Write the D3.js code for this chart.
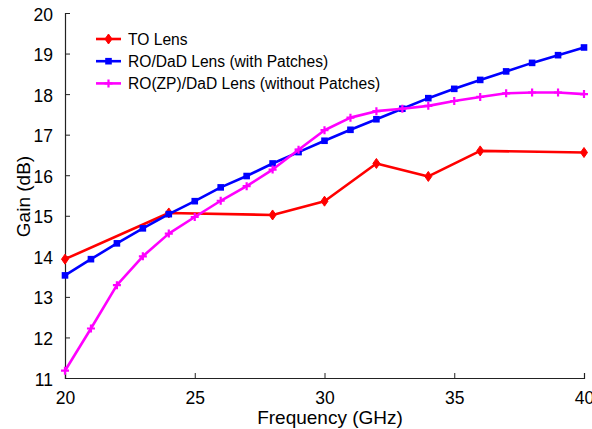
<!DOCTYPE html>
<html>
<head>
<meta charset="utf-8">
<script src="https://cdn.jsdelivr.net/npm/d3@7"></script>
<style>
  body { margin: 0; background: #fff; }
  text { font-family: "Liberation Sans", Arial, sans-serif; fill: #000; }
</style>
</head>
<body>
<div id="chart"></div>
<script>
// chart values
var toFreq = [20, 24, 28, 30, 32, 34, 36, 40];
var toGain = [13.93, 15.07, 15.02, 15.36, 16.29, 15.97, 16.60, 16.56];

var patchFreq = d3.range(20, 41);
var patchGain = [13.53, 13.93, 14.32, 14.69, 15.04, 15.36, 15.70, 15.98, 16.29, 16.57,
                 16.85, 17.12, 17.38, 17.64, 17.90, 18.13, 18.35, 18.56, 18.77, 18.96, 19.15];

var zpFreq = d3.range(20, 41);
var zpGain = [11.18, 12.22, 13.29, 14.00, 14.56, 14.97, 15.37, 15.73, 16.14, 16.63,
              17.11, 17.42, 17.58, 17.64, 17.71, 17.83, 17.93, 18.02, 18.04, 18.04, 18.00];

var seriesNames = ["TO Lens", "RO/DaD Lens (with Patches)", "RO(ZP)/DaD Lens (without Patches)"];
var xTicks = [20, 25, 30, 35, 40];
var yTicks = [11, 12, 13, 14, 15, 16, 17, 18, 19, 20];

var svgWidth = 592;
var svgHeight = 429;

var margin = { top: 13, right: 8, bottom: 51, left: 65 };
var width = svgWidth - margin.left - margin.right;
var height = svgHeight - margin.top - margin.bottom;

var svg = d3.select("#chart")
  .append("svg")
  .attr("width", svgWidth)
  .attr("height", svgHeight);

var chartGroup = svg.append("g")
  .attr("transform", `translate(${margin.left}, ${margin.top})`);

var xScale = d3.scaleLinear().domain([20, 40]).range([0, width]);
var yScale = d3.scaleLinear().domain([11, 20]).range([height, 0]);

// axes, ticks pointing inward
var bottomAxis = d3.axisBottom(xScale).tickValues(xTicks).tickSize(-5).tickPadding(14);
var leftAxis = d3.axisLeft(yScale).tickValues(yTicks).tickSize(-5).tickPadding(12);

var xAxisG = chartGroup.append("g")
  .attr("transform", `translate(0, ${height})`)
  .call(bottomAxis);

var yAxisG = chartGroup.append("g")
  .call(leftAxis);

[xAxisG, yAxisG].forEach(function(g) {
  g.select(".domain").attr("stroke", "#222").attr("stroke-width", 1.2);
  g.selectAll(".tick line").attr("stroke", "#222");
  g.selectAll(".tick text").style("font-size", "17.5px").attr("fill", "#000");
});
yAxisG.selectAll(".tick text").attr("dy", "0.4em");

// axis labels
chartGroup.append("text")
  .attr("x", 265)
  .attr("y", height + 46)
  .style("text-anchor", "middle")
  .style("font-size", "19px")
  .text("Frequency (GHz)");

chartGroup.append("text")
  .attr("transform", "rotate(-90)")
  .attr("x", -(height / 2) - 1)
  .attr("y", -35)
  .style("text-anchor", "middle")
  .style("font-size", "19px")
  .text("Gain (dB)");

// marker helpers
function drawMarker(g, kind, color, x, y) {
  if (kind === "diamond") {
    g.append("path")
      .attr("d", `M${x},${y - 5}L${x + 3.5},${y}L${x},${y + 5}L${x - 3.5},${y}Z`)
      .attr("fill", color).attr("stroke", color).attr("stroke-width", 1);
  } else if (kind === "square") {
    g.append("rect")
      .attr("x", x - 3.3).attr("y", y - 3.3)
      .attr("width", 6.6).attr("height", 6.6)
      .attr("fill", color);
  } else {
    g.append("path")
      .attr("d", `M${x - 4},${y}L${x + 4},${y}M${x},${y - 4}L${x},${y + 4}`)
      .attr("stroke", color).attr("stroke-width", 2.2);
  }
}

var series = [
  { name: seriesNames[0], xs: toFreq, ys: toGain, color: "#ff0000", marker: "diamond" },
  { name: seriesNames[1], xs: patchFreq, ys: patchGain, color: "#0000ff", marker: "square" },
  { name: seriesNames[2], xs: zpFreq, ys: zpGain, color: "#ff00ff", marker: "plus" }
];

var line = d3.line()
  .x(d => xScale(d[0]))
  .y(d => yScale(d[1]));

series.forEach(function(s) {
  var pts = s.xs.map((f, i) => [f, s.ys[i]]);
  var g = chartGroup.append("g");
  g.append("path")
    .datum(pts)
    .attr("d", line)
    .attr("fill", "none")
    .attr("stroke", s.color)
    .attr("stroke-width", 2.6)
    .attr("stroke-linejoin", "round");
  pts.forEach(function(p) {
    drawMarker(g, s.marker, s.color, xScale(p[0]), yScale(p[1]));
  });
});

// legend
var legend = svg.append("g").attr("transform", "translate(96, 39)");
series.forEach(function(s, i) {
  var row = legend.append("g").attr("transform", `translate(0, ${i * 22.2})`);
  row.append("line")
    .attr("x1", 0).attr("x2", 25)
    .attr("y1", 0).attr("y2", 0)
    .attr("stroke", s.color).attr("stroke-width", 2.6);
  drawMarker(row, s.marker, s.color, 12.5, 0);
  row.append("text")
    .attr("x", 32)
    .attr("y", 5.5)
    .style("font-size", "15.6px")
    .text(s.name);
});
</script>
</body>
</html>
